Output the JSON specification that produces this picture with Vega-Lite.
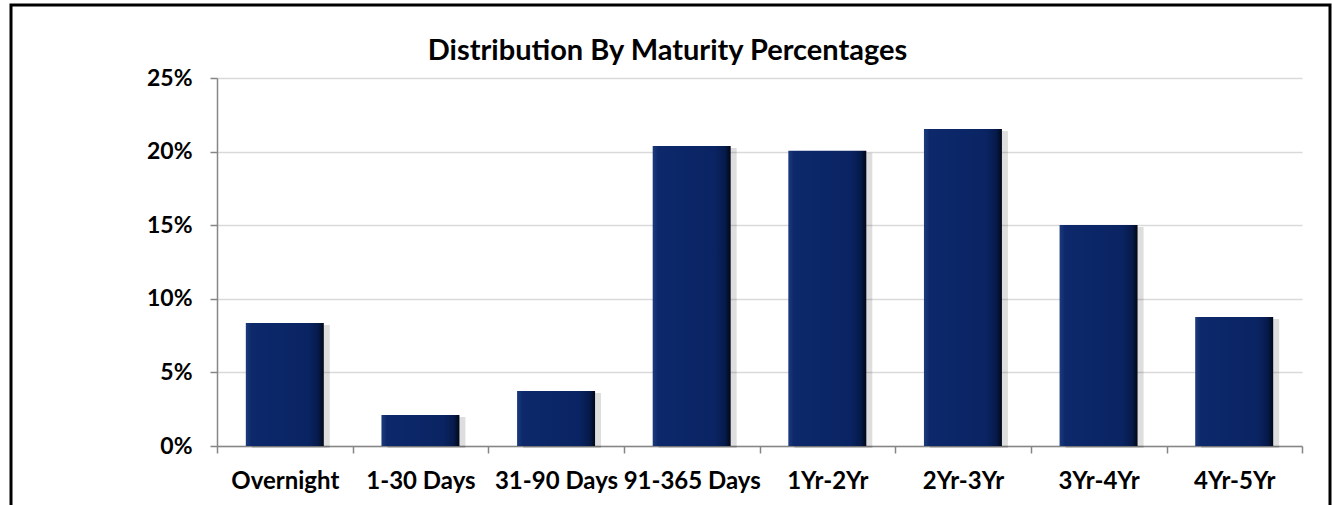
{
  "$schema": "https://vega.github.io/schema/vega-lite/v6.json",
  "width": 1319,
  "height": 500,
  "autosize": {"type": "none"},
  "padding": {"left": 11, "top": 5, "right": 2, "bottom": 0},
  "background": "#ffffff",
  "config": {
    "font": "Lato",
    "view": {"stroke": "#000000", "strokeWidth": 3, "strokeDash": [1819, 1319]}
  },
  "title": {
    "text": "Distribution By Maturity Percentages",
    "font": "Lato",
    "fontSize": 29,
    "fontWeight": "bold",
    "color": "#000000",
    "anchor": "middle",
    "frame": "group",
    "baseline": "alphabetic",
    "offset": -84,
    "dx": -3
  },
  "data": {
    "values": [
      {"bucket": "Overnight", "pct": 0.0836},
      {"bucket": "1-30 Days", "pct": 0.0211},
      {"bucket": "31-90 Days", "pct": 0.0374},
      {"bucket": "91-365 Days", "pct": 0.2038},
      {"bucket": "1Yr-2Yr", "pct": 0.2006},
      {"bucket": "2Yr-3Yr", "pct": 0.2154},
      {"bucket": "3Yr-4Yr", "pct": 0.1501},
      {"bucket": "4Yr-5Yr", "pct": 0.0876}
    ]
  },
  "resolve": {"axis": {"x": "independent"}},
  "layer": [
    {
      "mark": {"type": "bar", "xOffset": 6, "yOffset": 2, "color": "#000000", "opacity": 0.13},
      "encoding": {
        "x": {
          "field": "bucket",
          "type": "nominal",
          "sort": null,
          "scale": {"range": [206, 1291], "paddingInner": 0.425, "paddingOuter": 0.2125},
          "axis": {
            "title": null,
            "orient": "bottom",
            "offset": -59,
            "values": ["Overnight"],
            "labels": false,
            "domain": false,
            "grid": false,
            "ticks": true,
            "bandPosition": 0,
            "tickOffset": -29,
            "tickSize": 7,
            "tickColor": "#868686",
            "tickWidth": 1.5
          }
        },
        "y": {
          "field": "pct",
          "type": "quantitative",
          "scale": {"domain": [0, 0.25], "range": [441, 73], "nice": false, "zero": true},
          "axis": {
            "title": null,
            "orient": "left",
            "offset": -206,
            "values": [0, 0.05, 0.1, 0.15, 0.2, 0.25],
            "format": ".0%",
            "labelFont": "Lato",
            "labelFontSize": 23,
            "labelFontWeight": "bold",
            "labelColor": "#000000",
            "labelPadding": 18,
            "ticks": true,
            "tickSize": 7,
            "tickColor": "#868686",
            "tickWidth": 1.5,
            "domainColor": "#868686",
            "domainWidth": 1.5,
            "grid": true,
            "gridColor": "#d9d9d9",
            "gridWidth": 1.5
          }
        }
      }
    },
    {
      "mark": {
        "type": "bar",
        "color": {
          "gradient": "linear",
          "x1": 0, "y1": 0, "x2": 1, "y2": 0,
          "stops": [
            {"offset": 0, "color": "#1c3b7c"},
            {"offset": 0.07, "color": "#0d296b"},
            {"offset": 0.8, "color": "#0a2463"},
            {"offset": 0.93, "color": "#061a4a"},
            {"offset": 1, "color": "#010716"}
          ]
        }
      },
      "encoding": {
        "x": {
          "field": "bucket",
          "type": "nominal",
          "sort": null,
          "axis": {
            "title": null,
            "orient": "bottom",
            "offset": -59,
            "labelAngle": 0,
            "labelFont": "Lato",
            "labelFontSize": 24,
            "labelFontWeight": "bold",
            "labelColor": "#000000",
            "labelPadding": 16,
            "labelOffset": -29,
            "ticks": true,
            "bandPosition": 1,
            "tickOffset": 29,
            "tickSize": 7,
            "tickColor": "#868686",
            "tickWidth": 1.5,
            "domainColor": "#868686",
            "domainWidth": 1.5,
            "grid": false
          }
        },
        "y": {"field": "pct", "type": "quantitative"}
      }
    }
  ]
}
